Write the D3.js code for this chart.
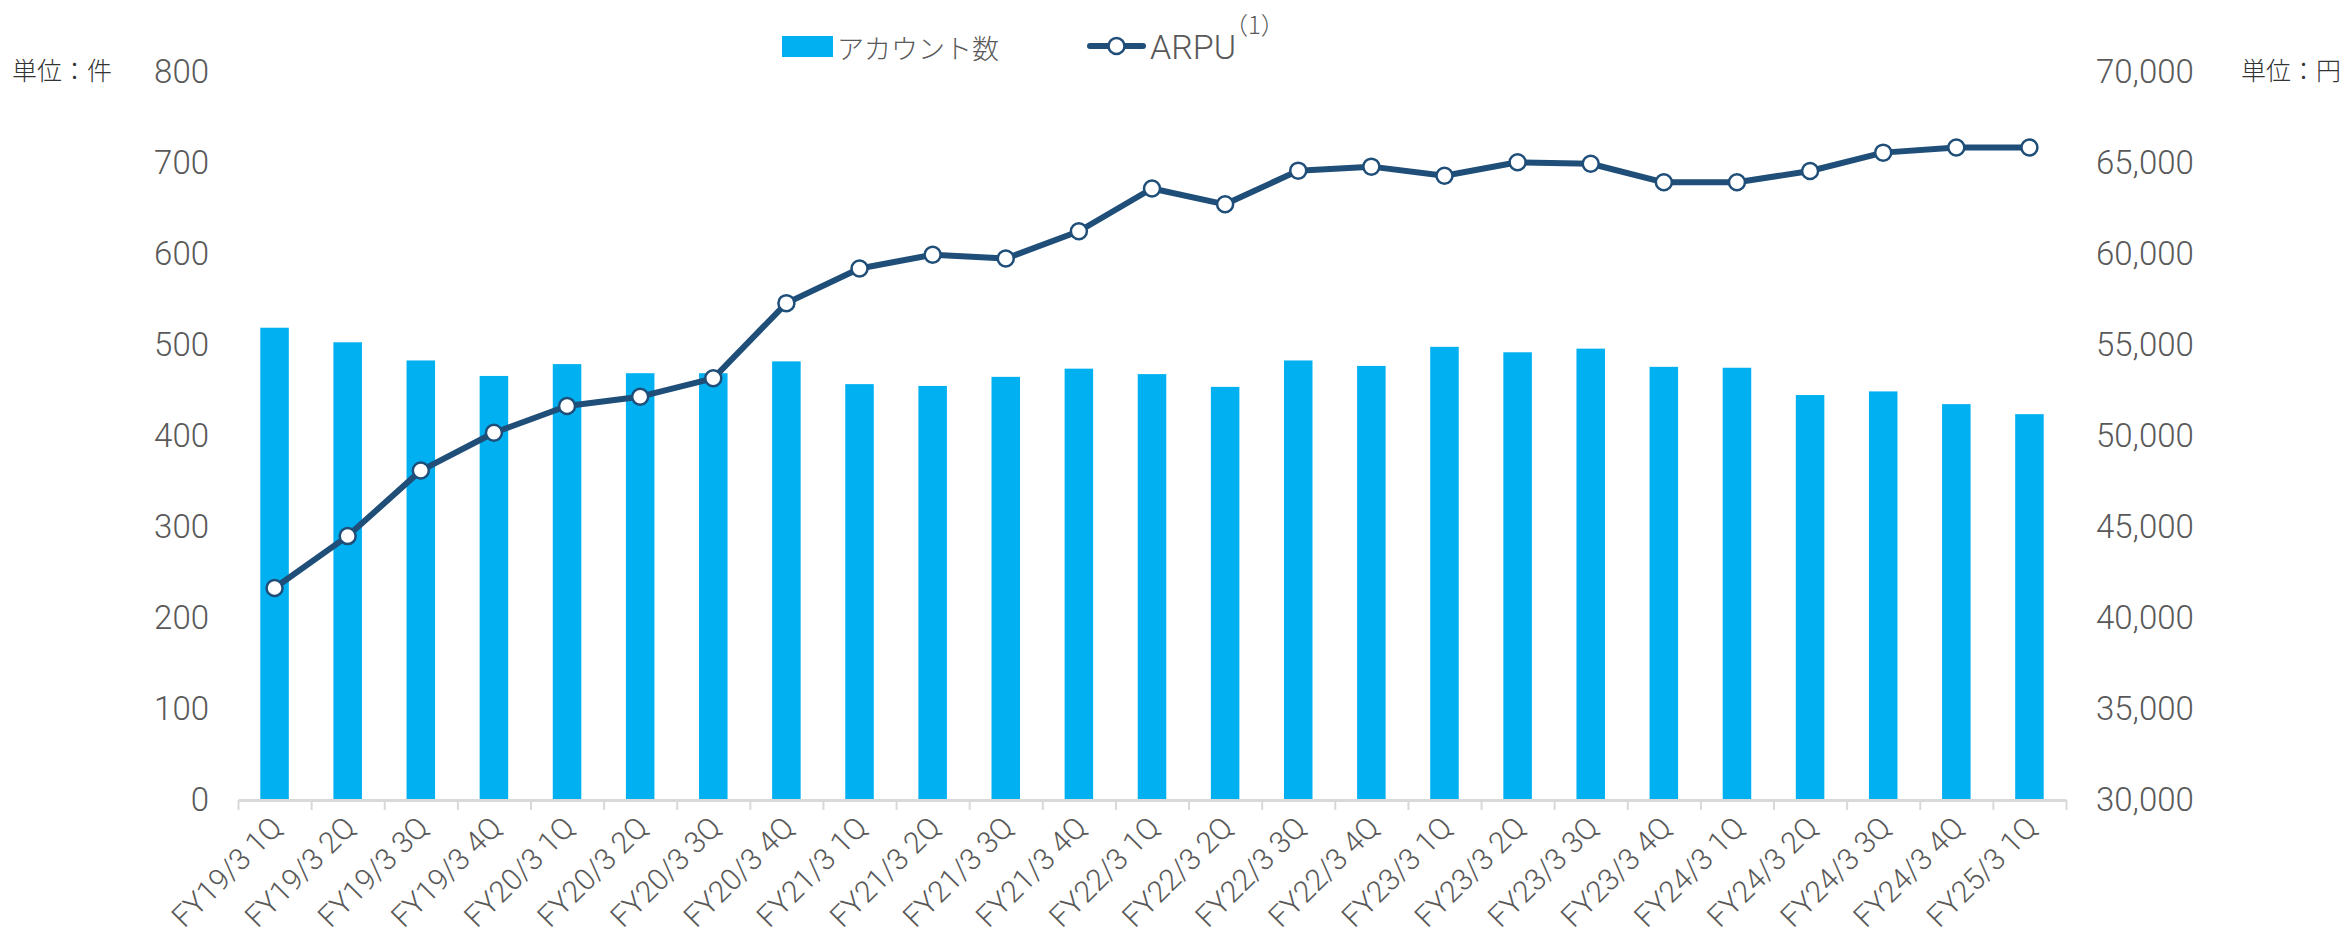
<!DOCTYPE html>
<html>
<head>
<meta charset="utf-8">
<script src="https://cdn.jsdelivr.net/npm/d3@7"></script>
<style>
  body { margin: 0; background: #fff; }
  text { font-family: Roboto, "Noto Sans CJK JP", sans-serif; }
  .jp { font-family: "Noto Sans CJK JP", sans-serif; }
</style>
</head>
<body>
<script>
// quarters on the x axis
const quarters = [
  "FY19/3 1Q", "FY19/3 2Q", "FY19/3 3Q", "FY19/3 4Q",
  "FY20/3 1Q", "FY20/3 2Q", "FY20/3 3Q", "FY20/3 4Q",
  "FY21/3 1Q", "FY21/3 2Q", "FY21/3 3Q", "FY21/3 4Q",
  "FY22/3 1Q", "FY22/3 2Q", "FY22/3 3Q", "FY22/3 4Q",
  "FY23/3 1Q", "FY23/3 2Q", "FY23/3 3Q", "FY23/3 4Q",
  "FY24/3 1Q", "FY24/3 2Q", "FY24/3 3Q", "FY24/3 4Q",
  "FY25/3 1Q"
];
// アカウント数 (件)
const accounts = [
  519, 503, 483, 466, 479, 469, 469, 482, 457, 455, 465, 474, 468,
  454, 483, 477, 498, 492, 496, 476, 475, 445, 449, 435, 424
];
// ARPU (円)
const arpu = [
  41650, 44500, 48100, 50180, 51650, 52160, 53170, 57300, 59200, 59960,
  59750, 61250, 63600, 62730, 64580, 64800, 64300, 65040, 64960, 63940,
  63940, 64560, 65570, 65850, 65850
];
const leftTicks = [0, 100, 200, 300, 400, 500, 600, 700, 800];
const rightTicks = [30000, 35000, 40000, 45000, 50000, 55000, 60000, 65000, 70000];

const w = 2348;
const h = 937;
const plotLeft = 238, plotRight = 2066, plotTop = 72, plotBottom = 800;

const barColor = "#00B0F0";
const lineColor = "#1F4E79";
const textColor = "#595959";

const svg = d3.select("body").append("svg").attr("width", w).attr("height", h);

// scales
const x = d3.scaleBand().domain(quarters).range([plotLeft, plotRight]).padding(0);
const yLeft = d3.scaleLinear().domain([0, 800]).range([plotBottom, plotTop]);
const yRight = d3.scaleLinear().domain([30000, 70000]).range([plotBottom, plotTop]);
const barW = x.bandwidth() * 0.39;

// bars
svg.selectAll("rect.bar")
  .data(accounts)
  .enter()
  .append("rect")
  .attr("class", "bar")
  .attr("x", (d, i) => x(quarters[i]) + (x.bandwidth() - barW) / 2)
  .attr("y", (d) => yLeft(d))
  .attr("width", barW)
  .attr("height", (d) => plotBottom - yLeft(d))
  .attr("fill", barColor);

// x axis: line plus ticks at band edges
const edge = d3.scaleLinear().domain([0, quarters.length]).range([plotLeft, plotRight]);
const xEdges = svg.append("g")
  .attr("transform", `translate(0,${plotBottom})`)
  .call(d3.axisBottom(edge).tickValues(d3.range(quarters.length + 1)).tickFormat("").tickSize(10).tickSizeOuter(0));
xEdges.select(".domain").attr("stroke", "#d9d9d9").attr("stroke-width", 3);
xEdges.selectAll(".tick line").attr("stroke", "#d9d9d9").attr("stroke-width", 2);

// x labels, rotated
const xLabels = svg.append("g")
  .attr("transform", `translate(0,${plotBottom})`)
  .call(d3.axisBottom(x).tickSize(0));
xLabels.select(".domain").remove();
xLabels.selectAll(".tick text")
  .attr("x", 0).attr("y", 0).attr("dy", "0.35em")
  .attr("transform", "translate(2,22) rotate(-45)")
  .attr("text-anchor", "end")
  .attr("fill", textColor)
  .style("font-size", "30px")
  .style("font-weight", 300)
  .style("font-family", "Roboto");

// left axis
const yAxisL = svg.append("g")
  .attr("transform", `translate(${plotLeft},0)`)
  .call(d3.axisLeft(yLeft).tickValues(leftTicks).tickSize(0).tickPadding(29));
yAxisL.select(".domain").remove();
yAxisL.selectAll("text").attr("fill", textColor).style("font-size", "33px").style("font-weight", 300).style("font-family", "Roboto");

// right axis
const yAxisR = svg.append("g")
  .attr("transform", `translate(${plotRight},0)`)
  .call(d3.axisRight(yRight).tickValues(rightTicks).tickSize(0).tickPadding(30).tickFormat(d3.format(",")));
yAxisR.select(".domain").remove();
yAxisR.selectAll("text").attr("fill", textColor).style("font-size", "33px").style("font-weight", 300).style("font-family", "Roboto");

// ARPU line
const line = d3.line()
  .x((d, i) => x(quarters[i]) + x.bandwidth() / 2)
  .y((d) => yRight(d));
svg.append("path")
  .datum(arpu)
  .attr("d", line)
  .attr("fill", "none")
  .attr("stroke", lineColor)
  .attr("stroke-width", 6)
  .attr("stroke-linejoin", "round");
svg.selectAll("circle.pt")
  .data(arpu)
  .enter()
  .append("circle")
  .attr("class", "pt")
  .attr("cx", (d, i) => x(quarters[i]) + x.bandwidth() / 2)
  .attr("cy", (d) => yRight(d))
  .attr("r", 8)
  .attr("fill", "#fff")
  .attr("stroke", lineColor)
  .attr("stroke-width", 2.5);

// unit labels
svg.append("text").attr("class", "jp").attr("x", 12).attr("y", 80)
  .text("単位：件").attr("fill", "#333").style("font-size", "25px").style("font-weight", 300);
svg.append("text").attr("class", "jp").attr("x", 2241).attr("y", 80)
  .text("単位：円").attr("fill", "#333").style("font-size", "25px").style("font-weight", 300);

// legend
svg.append("rect").attr("x", 782).attr("y", 36).attr("width", 51).attr("height", 21).attr("fill", barColor);
svg.append("text").attr("class", "jp").attr("x", 837).attr("y", 59)
  .text("アカウント数").attr("fill", textColor).style("font-size", "27px").style("font-weight", 300);
svg.append("line").attr("x1", 1090).attr("x2", 1143).attr("y1", 46).attr("y2", 46)
  .attr("stroke", lineColor).attr("stroke-width", 6).attr("stroke-linecap", "round");
svg.append("circle").attr("cx", 1116.5).attr("cy", 46).attr("r", 8)
  .attr("fill", "#fff").attr("stroke", lineColor).attr("stroke-width", 2.5);
svg.append("text").attr("x", 1150).attr("y", 59)
  .text("ARPU").attr("fill", textColor).style("font-size", "34px").style("font-weight", 300);
svg.append("text").attr("class", "jp").attr("x", 1224).attr("y", 34)
  .text("（1）").attr("fill", textColor).style("font-size", "24px").style("font-weight", 300);
</script>
</body>
</html>
